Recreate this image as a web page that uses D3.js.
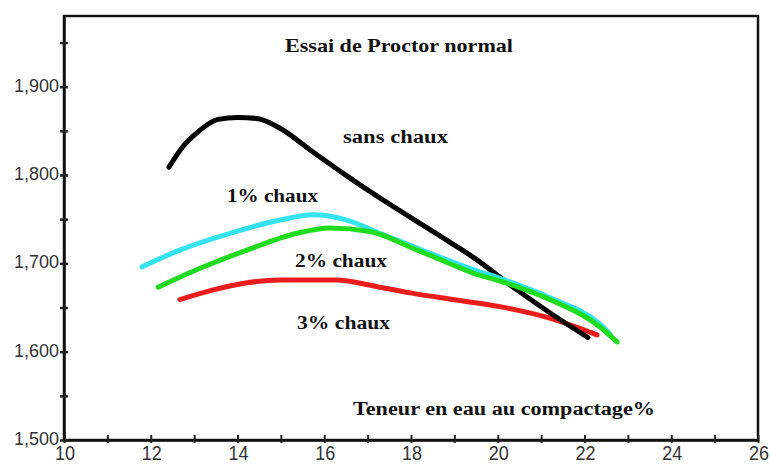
<!DOCTYPE html>
<html>
<head>
<meta charset="utf-8">
<script src="https://cdn.jsdelivr.net/npm/d3@7"></script>
<style>
html,body{margin:0;padding:0;background:#fff;}
svg{display:block;}
</style>
</head>
<body>
<svg id="chart" width="770" height="466"></svg>
<script>
// ---- data ----
const xTicksMajor = [10, 12, 14, 16, 18, 20, 22, 24, 26];
const yTicksMajor = [1.5, 1.6, 1.7, 1.8, 1.9];

const sansChaux = [
  [12.42, 1.809], [12.74, 1.832], [13.07, 1.848], [13.55, 1.863], [14.0, 1.865], [14.45, 1.864],
  [14.98, 1.853], [15.74, 1.826], [16.52, 1.799], [17.28, 1.774], [18.05, 1.750],
  [18.83, 1.726], [19.43, 1.707], [20.44, 1.670], [21.20, 1.644], [22.08, 1.616]
];
const chaux1 = [
  [11.80, 1.696], [12.67, 1.715], [13.83, 1.734], [14.98, 1.749], [15.74, 1.755],
  [16.52, 1.749], [17.28, 1.734], [18.05, 1.719], [18.83, 1.704], [19.43, 1.693],
  [20.05, 1.683], [21.20, 1.661], [22.36, 1.631], [22.59, 1.620]
];
const chaux2 = [
  [12.17, 1.673], [13.07, 1.693], [14.22, 1.715], [15.37, 1.734], [16.13, 1.740],
  [17.05, 1.736], [18.05, 1.717], [18.83, 1.701], [19.43, 1.689], [20.05, 1.680],
  [21.20, 1.659], [22.36, 1.628], [22.75, 1.611]
];
const chaux3 = [
  [12.67, 1.659], [13.44, 1.670], [14.22, 1.678], [14.98, 1.681], [16.25, 1.681],
  [17.28, 1.673], [18.05, 1.666], [18.97, 1.659], [20.05, 1.651], [21.20, 1.638],
  [21.97, 1.625], [22.29, 1.619]
];
const seriesNames = ["sans chaux", "1% chaux", "2% chaux", "3% chaux"];
const seriesColors = ["#000000", "#33e3f0", "#1fdc1f", "#ec1c1c"];
const titleText = "Essai de Proctor normal";
const xAxisTitle = "Teneur en eau au compactage%";

// ---- layout ----
const svg = d3.select("#chart");
const x = d3.scaleLinear().domain([10, 26]).range([64, 758]);
const y = d3.scaleLinear().domain([1.5, 1.98]).range([440, 16]);
const fr = d3.formatLocale({decimal: ",", thousands: " ", grouping: [3], currency: ["", " €"]});
const yFmt = fr.format(".3f");

// frame
svg.append("rect")
  .attr("x", x(10)).attr("y", y(1.98))
  .attr("width", x(26) - x(10)).attr("height", y(1.5) - y(1.98))
  .attr("fill", "none").attr("stroke", "#111").attr("stroke-width", 2.5);

// x axis
const xAxis = d3.axisBottom(x)
  .tickValues(d3.range(10, 27, 1))
  .tickSize(0)
  .tickFormat(() => "");
const gx = svg.append("g").attr("transform", `translate(0,${y(1.5)})`).call(xAxis);
gx.select(".domain").attr("stroke", "#111").attr("stroke-width", 2.5);
gx.selectAll(".tick").append("line")
  .attr("y1", -5).attr("y2", 3).attr("stroke", "#222").attr("stroke-width", 2);
svg.append("g").selectAll("text").data(xTicksMajor).join("text")
  .attr("x", d => x(d) + 1).attr("y", 460)
  .attr("text-anchor", "middle")
  .attr("font-family", "'Liberation Sans', Arial, sans-serif")
  .attr("font-size", 20)
  .attr("textLength", 20).attr("lengthAdjust", "spacingAndGlyphs")
  .attr("fill", "#333")
  .text(d => d);

// y axis
const yAxis = d3.axisLeft(y)
  .tickValues(d3.range(0, 10).map(i => 1.5 + i * 0.05))
  .tickSize(0)
  .tickFormat(() => "");
const gy = svg.append("g").attr("transform", `translate(${x(10)},0)`).call(yAxis);
gy.select(".domain").attr("stroke", "#111").attr("stroke-width", 2.5);
gy.selectAll(".tick").append("line")
  .attr("x1", -4).attr("x2", 4).attr("stroke", "#222").attr("stroke-width", 2.5);
svg.append("g").selectAll("text").data(yTicksMajor).join("text")
  .attr("x", 59).attr("y", d => y(d) + 5)
  .attr("text-anchor", "end")
  .attr("font-family", "'Liberation Sans', Arial, sans-serif")
  .attr("font-size", 18)
  .attr("textLength", 45).attr("lengthAdjust", "spacingAndGlyphs")
  .attr("fill", "#333")
  .text(d => yFmt(d));

// lines
const line = d3.line().x(d => x(d[0])).y(d => y(d[1])).curve(d3.curveMonotoneX);
const order = [
  {data: chaux3, color: seriesColors[3]},
  {data: sansChaux, color: seriesColors[0]},
  {data: chaux1, color: seriesColors[1]},
  {data: chaux2, color: seriesColors[2]}
];
svg.append("g").selectAll("path").data(order).join("path")
  .attr("d", d => line(d.data))
  .attr("fill", "none")
  .attr("stroke", d => d.color)
  .attr("stroke-width", 5)
  .attr("stroke-linecap", "round")
  .attr("stroke-linejoin", "round");

// text labels
const serif = "'Liberation Serif', 'DejaVu Serif', 'Times New Roman', serif";
const labels = [
  {t: titleText, x: 285, y: 52, w: 228, s: 19},
  {t: seriesNames[0], x: 343, y: 143, w: 105, s: 18},
  {t: seriesNames[1], x: 227, y: 202, w: 91, s: 18},
  {t: seriesNames[2], x: 295, y: 267, w: 92, s: 18},
  {t: seriesNames[3], x: 297, y: 329, w: 93, s: 18},
  {t: xAxisTitle, x: 353, y: 415, w: 302, s: 18}
];
svg.append("g").selectAll("text").data(labels).join("text")
  .attr("x", d => d.x).attr("y", d => d.y)
  .attr("font-family", serif)
  .attr("font-weight", "bold")
  .attr("font-size", d => d.s)
  .attr("textLength", d => d.w).attr("lengthAdjust", "spacingAndGlyphs")
  .attr("fill", "#111")
  .text(d => d.t);
</script>
</body>
</html>
